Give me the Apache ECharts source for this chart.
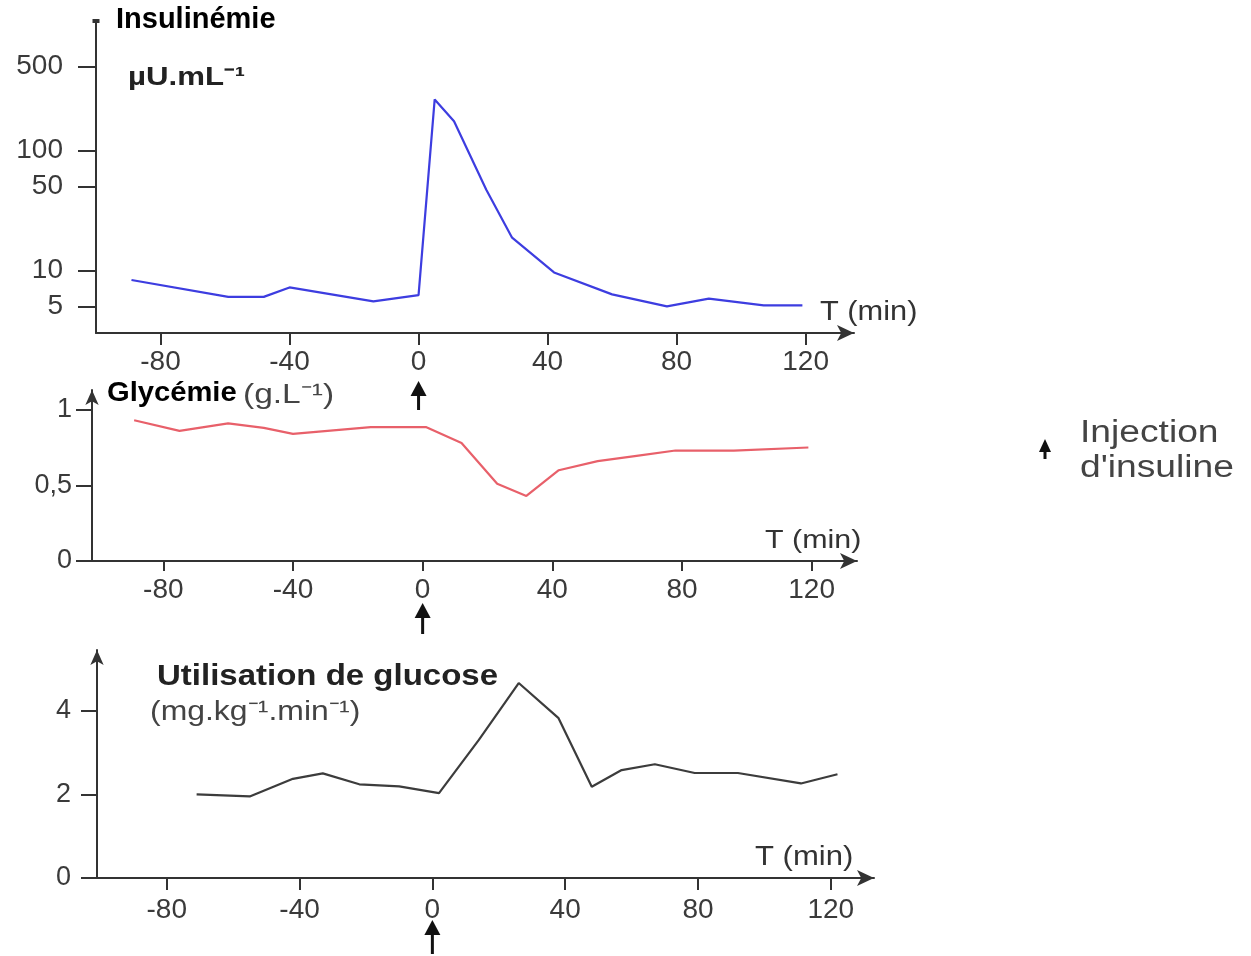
<!DOCTYPE html>
<html>
<head>
<meta charset="utf-8">
<script src="https://cdn.jsdelivr.net/npm/echarts@6/dist/echarts.min.js"></script>
<style>
  html, body { margin: 0; padding: 0; background: #fff; }
  #chart { width: 1251px; height: 956px; }
</style>
</head>
<body>
<div id="chart"></div>
<script>
const insT = [-89, -59, -48, -40, -14, 0, 5, 11, 21, 29, 42, 60, 77, 90, 107, 119];
const insV = [8.3, 6.0, 6.0, 7.2, 5.5, 6.2, 266, 175, 47, 18.7, 9.6, 6.3, 5.0, 5.8, 5.1, 5.1];

const glyT = [-89, -75, -60, -49, -40, -16, 1, 12, 23, 32, 42, 54, 66, 78, 96, 119];
const glyV = [0.93, 0.86, 0.91, 0.88, 0.84, 0.885, 0.885, 0.78, 0.51, 0.43, 0.60, 0.66, 0.695, 0.73, 0.73, 0.75];

const gluT = [-71, -55, -42, -33, -22, -10, 2, 14, 26, 38, 48, 57, 67, 79, 92, 111, 122];
const gluV = [2.0, 1.95, 2.37, 2.5, 2.24, 2.19, 2.03, 3.3, 4.66, 3.82, 2.18, 2.58, 2.72, 2.51, 2.51, 2.26, 2.48];

const xTicks = [-80, -40, 0, 40, 80, 120];
const insTicks = [5, 10, 50, 100, 500];
const glyTicks = [0, 0.5, 1];
const gluTicks = [0, 2, 4];

const FONT = "'Liberation Sans', Arial, sans-serif";
const AXIS = '#333';

function zip(a, b) { return a.map((t, i) => [t, b[i]]); }

function xAxisOf(idx, min, max, tickLen, margin) {
    return {
        type: 'value', gridIndex: idx, min: min, max: max,
        splitLine: { show: false },
        axisLine: { onZero: false, lineStyle: { color: AXIS, width: 2 }, symbol: ['none', 'arrow'], symbolSize: [12, 17] },
        axisTick: { customValues: xTicks, length: tickLen, lineStyle: { color: AXIS, width: 2 } },
        axisLabel: { customValues: xTicks, margin: margin, fontSize: 28, color: '#3a3a3a', fontFamily: FONT }
    };
}

function yAxisOf(idx, extra) {
    return Object.assign({
        gridIndex: idx, position: 'left',
        splitLine: { show: false }
    }, extra);
}

let myChart = echarts.init(document.getElementById('chart'));

let option = {
    backgroundColor: '#fff',
    animation: false,
    grid: [
        { left: 96, width: 758, top: 21, height: 312 },
        { left: 92, width: 765, top: 390, height: 171 },
        { left: 97, width: 777, top: 650, height: 228 }
    ],
    xAxis: [
        xAxisOf(0, -100, 135, 12, 15),
        xAxisOf(1, -102, 134, 10, 15),
        xAxisOf(2, -101, 133, 12, 18)
    ],
    yAxis: [
        yAxisOf(0, {
            type: 'log', min: 3, max: 1200, logBase: 10,
            axisLine: { onZero: false, lineStyle: { color: AXIS, width: 2 }, symbol: ['none', 'rect'], symbolSize: [7, 4] },
            axisTick: { customValues: insTicks, length: 18, lineStyle: { color: AXIS, width: 2 } },
            axisLabel: { customValues: insTicks, margin: 33, fontSize: 28, color: '#3a3a3a', fontFamily: FONT }
        }),
        yAxisOf(1, {
            type: 'value', min: 0, max: 1.13,
            axisLine: { onZero: false, lineStyle: { color: AXIS, width: 2 }, symbol: ['none', 'arrow'], symbolSize: [10, 15] },
            axisTick: { customValues: glyTicks, length: 16, lineStyle: { color: AXIS, width: 2 } },
            axisLabel: {
                customValues: glyTicks, margin: 20, fontSize: 27, color: '#3a3a3a', fontFamily: FONT,
                formatter: v => String(v).replace('.', ',')
            }
        }),
        yAxisOf(2, {
            type: 'value', min: 0, max: 5.45,
            axisLine: { onZero: false, lineStyle: { color: AXIS, width: 2 }, symbol: ['none', 'arrow'], symbolSize: [10, 15] },
            axisTick: { customValues: gluTicks, length: 16, lineStyle: { color: AXIS, width: 2 } },
            axisLabel: { customValues: gluTicks, margin: 26, fontSize: 27, color: '#3a3a3a', fontFamily: FONT }
        })
    ],
    series: [
        {
            name: 'Insulinémie', type: 'line', xAxisIndex: 0, yAxisIndex: 0,
            data: zip(insT, insV), showSymbol: false,
            lineStyle: { color: '#3d3de0', width: 2.2 }
        },
        {
            name: 'Glycémie', type: 'line', xAxisIndex: 1, yAxisIndex: 1,
            data: zip(glyT, glyV), showSymbol: false,
            lineStyle: { color: '#e8606a', width: 2.2 }
        },
        {
            name: 'Utilisation de glucose', type: 'line', xAxisIndex: 2, yAxisIndex: 2,
            data: zip(gluT, gluV), showSymbol: false,
            lineStyle: { color: '#3c3c3c', width: 2.2 }
        }
    ]
};

myChart.setOption(option);

// flèches "injection d'insuline" sous le 0 de chaque axe
function arrow(x, tip, head, end, hw) {
    return [
        { type: 'polygon', shape: { points: [[x, tip], [x - hw, head], [x + hw, head]] }, style: { fill: '#111' } },
        { type: 'line', shape: { x1: x, y1: head - 1, x2: x, y2: end }, style: { stroke: '#111', lineWidth: 3 } }
    ];
}

function txt(x, y, text, size, weight, color, sx) {
    return {
        type: 'text', x: x, y: y, scaleX: sx || 1,
        style: { text: text, fontSize: size, fontWeight: weight, fill: color, fontFamily: FONT, verticalAlign: 'middle', align: 'left' }
    };
}

let x0 = [0, 1, 2].map(i => myChart.convertToPixel({ xAxisIndex: i }, 0));

let graphic = [].concat(
    arrow(x0[0], 381, 396, 410, 8),
    arrow(x0[1], 603, 618, 634, 8),
    arrow(x0[2], 920, 935, 954, 8),
    arrow(1045, 439, 452, 459, 6),
    [
        txt(116, 20, 'Insulinémie', 29, 'bold', '#000'),
        txt(128, 78, 'µU.mL⁻¹', 26, 'bold', '#222', 1.2),
        txt(820, 313, 'T (min)', 27, 'normal', '#333', 1.14),
        txt(107, 394, 'Glycémie', 27, 'bold', '#000', 1.08),
        txt(243, 396, '(g.L⁻¹)', 27, 'normal', '#444', 1.24),
        txt(765, 541, 'T (min)', 26, 'normal', '#333', 1.17),
        txt(157, 677, 'Utilisation de glucose', 30, 'bold', '#222', 1.1),
        txt(150, 712, '(mg.kg⁻¹.min⁻¹)', 28, 'normal', '#444', 1.14),
        txt(755, 858, 'T (min)', 27, 'normal', '#333', 1.15),
        txt(1080, 433, 'Injection', 31, 'normal', '#444', 1.2),
        txt(1080, 468, 'd\'insuline', 31, 'normal', '#444', 1.2)
    ]
);

myChart.setOption({ graphic: graphic });
</script>
</body>
</html>
